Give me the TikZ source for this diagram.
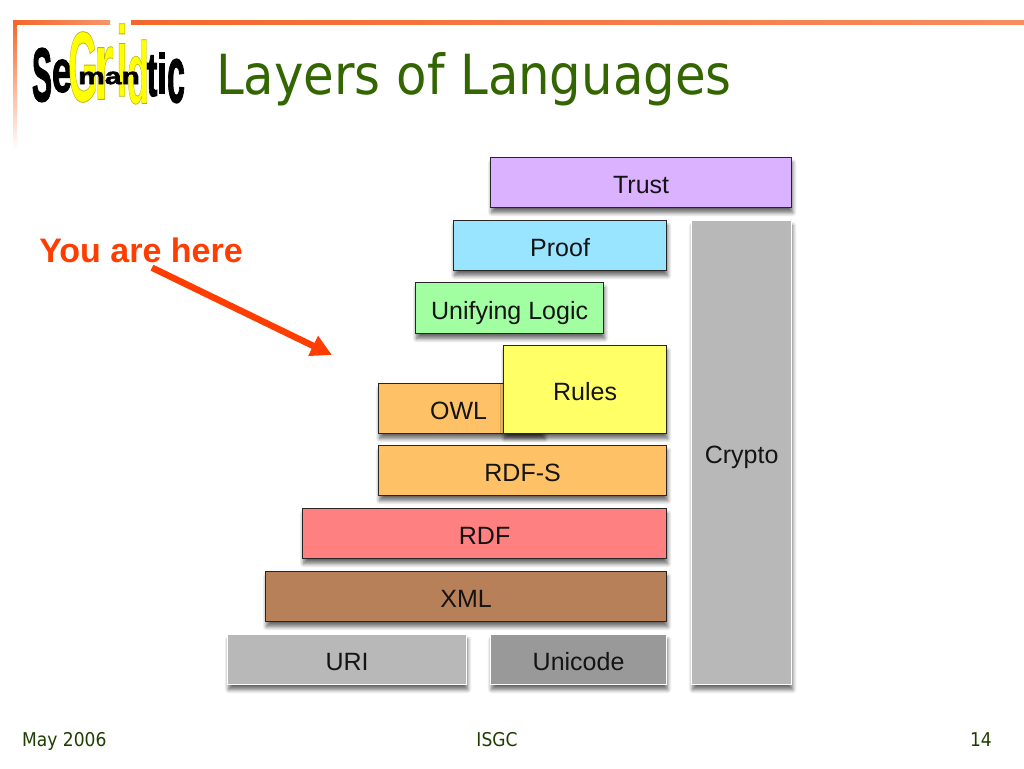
\documentclass[tikz,border=0pt]{standalone}
\usepackage{fontspec}
\setmainfont{Liberation Sans}
\newfontfamily\titlefont{DejaVu Sans Condensed}
\newfontfamily\logofont{Liberation Sans Bold}[FakeBold=2]
\newfontfamily\gridfont{Liberation Sans Bold}[FakeBold=0.8]
\usepackage{xcolor}
\usepackage{tikz}
\usetikzlibrary{calc,positioning,arrows.meta,shadows.blur}

\definecolor{framecol}{HTML}{F4672A}
\definecolor{titlecol}{HTML}{336600}
\definecolor{herecol}{HTML}{FF3D00}

\tikzset{
    layerbox/.style={draw=black!85, line width=1.2pt, anchor=north west, inner sep=0pt, text=black!92,
        text height=22pt, text depth=0pt,
        font=\fontsize{25}{25}\selectfont, blur shadow={shadow xshift=1pt, shadow yshift=-5pt, shadow blur radius=4pt, shadow blur steps=8, shadow opacity=60}},
    greybox/.style={layerbox, draw=white},
    logotext/.style={inner sep=0pt, font=\logofont\fontsize{40}{40}\selectfont},
    gridtext/.style={inner sep=0pt, font=\gridfont\fontsize{40}{40}\selectfont},
    footer/.style={font=\titlefont\fontsize{19}{19}\selectfont, text=titlecol!60!black}
}
% yellow fill, olive edge
\newcommand{\gridletter}[1]{\special{pdf:bcolor [1 1 0] [0.72 0.69 0.1]}#1\special{pdf:ecolor}}

\begin{document}
\begin{tikzpicture}[x=1pt, y=-1pt]
    \useasboundingbox (0,0) rectangle (1024,768);

    % Slide frame
    \shade [left color=framecol, right color=framecol!70] (13,21) rectangle (110,25);
    \shade [left color=framecol, right color=framecol!75] (131,21) rectangle (1024,25);
    \shade [top color=framecol, bottom color=white] (13,21) rectangle (17,150);

    % Logo
    \node [logotext, text=black, xscale=0.75, yscale=1.9] (logo_s) at (42,75) {S};
    \node [logotext, text=black, xscale=0.9, yscale=1.5] (logo_e) at (62,76) {e};
    \node [logotext, text=black, xscale=0.8, yscale=1.55] (logo_t) at (152,76) {t};
    \node [logotext, text=black, xscale=0.9, yscale=1.4] (logo_i) at (162,73) {i};
    \node [logotext, text=black, xscale=0.8, yscale=2] (logo_c) at (176,81) {c};
    \node [gridtext, xscale=0.95, yscale=2.5] (logo_g) at (83,67) {\gridletter{G}};
    \node [gridtext, xscale=1.25, yscale=2.45] (logo_r) at (104,73) {\gridletter{r}};
    \node [gridtext, xscale=1.05, yscale=2.5] (logo_ri) at (122,60) {\gridletter{i}};
    \node [gridtext, xscale=0.9, yscale=2.2] (logo_d) at (138,72) {\gridletter{d}};
    \node [logotext, text=black, xscale=0.75, yscale=0.58] (logo_man) at (109,78) {man};

    \node [anchor=base west, inner sep=0pt, text=titlecol, font=\titlefont\fontsize{55.3}{55.3}\selectfont] (title) at (216,94) {Layers of Languages};

    % Pointer
    \node [inner sep=0pt, text=herecol, font=\bfseries\fontsize{34}{34}\selectfont] (here) at (141,250) {You are here};
    \coordinate (here_tail) at ($(here.south)+(11,5)$);
    \coordinate (here_tip) at (332,355);
    \draw [-{Triangle[length=21pt, width=21pt]}, herecol, line width=6.5pt] (here_tail) -- (here_tip);

    % Layers
    \node [layerbox, fill={rgb,255:red,219;green,178;blue,255}, minimum width=301pt, minimum height=50pt] (trust) at (490,157) {Trust};
    \node [layerbox, fill={rgb,255:red,153;green,229;blue,255}, minimum width=213pt, minimum height=50pt] (proof) at (453,220) {Proof};
    \node [layerbox, fill={rgb,255:red,161;green,255;blue,161}, minimum width=188pt, minimum height=51pt] (logic) at (415,282) {Unifying Logic};
    \node [layerbox, fill={rgb,255:red,255;green,193;blue,102}, minimum width=165pt, minimum height=50pt] (owl) at (378,383) {OWL\kern5pt};
    \node [layerbox, fill={rgb,255:red,255;green,255;blue,102}, minimum width=163pt, minimum height=88pt] (rules) at (503,345) {Rules};
    \node [layerbox, fill={rgb,255:red,255;green,193;blue,102}, minimum width=288pt, minimum height=50pt] (rdfs) at (378,445) {RDF-S};
    \node [layerbox, fill={rgb,255:red,255;green,128;blue,128}, minimum width=364pt, minimum height=50pt] (rdf) at (302,508) {RDF};
    \node [layerbox, fill={rgb,255:red,184;green,128;blue,89}, minimum width=401pt, minimum height=50pt] (xml) at (265,571) {XML};
    \node [greybox, fill=black!28, minimum width=239pt, minimum height=50pt] (uri) at (227,634) {URI};
    \node [greybox, fill=black!40, minimum width=176pt, minimum height=50pt] (unicode) at (490,634) {Unicode};
    \node [greybox, fill=black!28, minimum width=100pt, minimum height=464pt] (crypto) at (691,220) {Crypto};

    % Footer
    \node [footer, anchor=base west, inner sep=0pt] (date) at (22,746) {May 2006};
    \node [footer, anchor=base, inner sep=0pt] (event) at (497,746) {ISGC};
    \node [footer, anchor=base east, inner sep=0pt] (page) at (992,746) {14};
\end{tikzpicture}
\end{document}
